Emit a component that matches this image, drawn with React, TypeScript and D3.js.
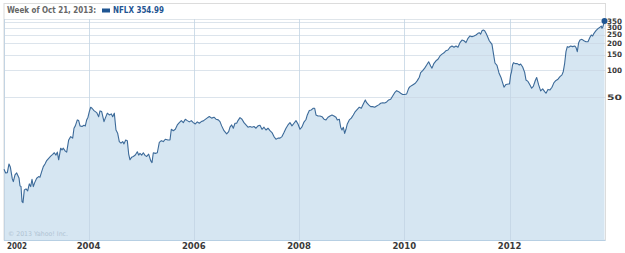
import React from "react";
import * as d3 from "d3";

const W = 625;
const H = 253;

// weekly closes (fractional year, split-adjusted price)
const years: number[] = [
  2002.394, 2002.426, 2002.457, 2002.489, 2002.514, 2002.552, 2002.571, 2002.603, 2002.635, 2002.679,
  2002.698, 2002.717, 2002.736, 2002.755, 2002.78, 2002.812, 2002.844, 2002.875, 2002.901, 2002.926,
  2002.951, 2002.977, 2003.015, 2003.053, 2003.078, 2003.11, 2003.141, 2003.173, 2003.205, 2003.243,
  2003.281, 2003.319, 2003.35, 2003.382, 2003.407, 2003.433, 2003.471, 2003.496, 2003.521, 2003.559,
  2003.585, 2003.623, 2003.661, 2003.699, 2003.724, 2003.749, 2003.787, 2003.813, 2003.838, 2003.876,
  2003.914, 2003.939, 2003.965, 2003.99, 2004.015, 2004.041, 2004.066, 2004.104, 2004.155, 2004.193,
  2004.218, 2004.25, 2004.294, 2004.319, 2004.357, 2004.395, 2004.433, 2004.459, 2004.49, 2004.522,
  2004.554, 2004.585, 2004.617, 2004.649, 2004.674, 2004.706, 2004.737, 2004.763, 2004.788, 2004.82,
  2004.851, 2004.889, 2004.927, 2004.953, 2004.978, 2005.01, 2005.041, 2005.073, 2005.105, 2005.143,
  2005.181, 2005.206, 2005.231, 2005.269, 2005.307, 2005.345, 2005.383, 2005.421, 2005.459, 2005.51,
  2005.548, 2005.573, 2005.611, 2005.649, 2005.687, 2005.725, 2005.763, 2005.801, 2005.839, 2005.877,
  2005.915, 2005.953, 2005.991, 2006.029, 2006.067, 2006.105, 2006.143, 2006.181, 2006.219, 2006.257,
  2006.295, 2006.34, 2006.384, 2006.422, 2006.466, 2006.498, 2006.53, 2006.574, 2006.625, 2006.663,
  2006.688, 2006.72, 2006.751, 2006.783, 2006.815, 2006.84, 2006.878, 2006.916, 2006.954, 2006.992,
  2007.03, 2007.068, 2007.106, 2007.144, 2007.182, 2007.22, 2007.258, 2007.296, 2007.334, 2007.372,
  2007.41, 2007.448, 2007.486, 2007.524, 2007.562, 2007.6, 2007.638, 2007.676, 2007.714, 2007.752,
  2007.79, 2007.828, 2007.866, 2007.904, 2007.942, 2007.98, 2008.018, 2008.056, 2008.094, 2008.132,
  2008.157, 2008.195, 2008.233, 2008.271, 2008.297, 2008.322, 2008.36, 2008.398, 2008.436, 2008.474,
  2008.512, 2008.55, 2008.588, 2008.626, 2008.664, 2008.702, 2008.727, 2008.765, 2008.791, 2008.816,
  2008.841, 2008.867, 2008.892, 2008.917, 2008.955, 2008.993, 2009.031, 2009.069, 2009.107, 2009.145,
  2009.183, 2009.221, 2009.259, 2009.285, 2009.323, 2009.361, 2009.399, 2009.437, 2009.475, 2009.513,
  2009.551, 2009.589, 2009.627, 2009.665, 2009.703, 2009.741, 2009.779, 2009.817, 2009.855, 2009.893,
  2009.931, 2009.969, 2010.007, 2010.045, 2010.083, 2010.108, 2010.159, 2010.209, 2010.247, 2010.285,
  2010.311, 2010.349, 2010.387, 2010.425, 2010.463, 2010.501, 2010.526, 2010.564, 2010.602, 2010.64,
  2010.678, 2010.716, 2010.754, 2010.792, 2010.83, 2010.868, 2010.906, 2010.944, 2010.982, 2011.02,
  2011.058, 2011.096, 2011.134, 2011.172, 2011.21, 2011.248, 2011.286, 2011.324, 2011.362, 2011.4,
  2011.425, 2011.451, 2011.476, 2011.501, 2011.527, 2011.558, 2011.577, 2011.615, 2011.641, 2011.666,
  2011.691, 2011.723, 2011.761, 2011.799, 2011.837, 2011.869, 2011.894, 2011.932, 2011.976, 2011.999,
  2012.021, 2012.037, 2012.056, 2012.075, 2012.109, 2012.147, 2012.185, 2012.211, 2012.249, 2012.287,
  2012.312, 2012.35, 2012.388, 2012.42, 2012.451, 2012.489, 2012.515, 2012.553, 2012.591, 2012.629,
  2012.667, 2012.692, 2012.73, 2012.768, 2012.806, 2012.844, 2012.882, 2012.92, 2012.958, 2012.996,
  2013.021, 2013.047, 2013.072, 2013.097, 2013.123, 2013.161, 2013.199, 2013.237, 2013.262, 2013.287,
  2013.313, 2013.338, 2013.376, 2013.414, 2013.452, 2013.49, 2013.528, 2013.553, 2013.579, 2013.604,
  2013.642, 2013.68, 2013.718, 2013.743, 2013.756, 2013.769, 2013.794, 2013.804,
];

const prices: number[] = [
  7.93, 7.21, 7.27, 9.08, 8.41, 6.18, 5.77, 6.85, 7.21, 6.34,
  5.17, 5.08, 3.46, 3.37, 4.67, 4.79, 4.55, 5.44, 5.08, 6.13,
  5.08, 5.62, 6.29, 6.56, 6.46, 7.46, 8.48, 9.08, 9.89, 10.5,
  11.1, 11.6, 12.1, 11.4, 12.3, 10.1, 13.6, 13.0, 13.6, 12.6,
  12.3, 16.8, 18.3, 17.6, 22.7, 24.1, 28.1, 27.6, 24.1, 23.7,
  24.5, 24.1, 28.1, 30.1, 34.8, 38.9, 37.9, 35.7, 33.9, 30.5,
  35.4, 34.8, 26.9, 29.4, 33.4, 31.9, 32.8, 30.5, 33.4, 21.7,
  19.9, 16.1, 15.5, 16.1, 15.2, 16.8, 16.5, 11.7, 10.1, 10.8,
  11.0, 11.4, 12.4, 11.4, 11.9, 11.4, 12.1, 11.3, 11.0, 11.7,
  9.89, 9.39, 12.1, 11.9, 12.1, 15.8, 16.5, 16.1, 17.1, 16.8,
  16.8, 22.1, 21.3, 22.1, 24.7, 26.2, 27.6, 26.2, 28.6, 27.6,
  26.7, 27.6, 26.2, 25.3, 26.7, 25.8, 26.9, 27.4, 28.5, 29.6,
  30.7, 29.4, 30.1, 28.6, 28.1, 26.9, 24.1, 21.3, 19.6, 20.8,
  23.3, 24.7, 22.7, 25.8, 25.8, 27.6, 29.8, 28.6, 26.2, 24.7,
  23.3, 23.7, 23.3, 23.7, 22.7, 24.1, 24.5, 22.1, 23.3, 21.7,
  22.7, 21.3, 20.3, 18.3, 17.1, 17.6, 17.6, 18.3, 20.3, 22.7,
  24.7, 26.2, 24.1, 25.8, 27.6, 25.3, 22.1, 23.5, 26.6, 28.4,
  31.9, 35.7, 36.3, 37.9, 37.9, 31.9, 31.1, 31.1, 30.5, 28.6,
  28.1, 30.1, 31.1, 31.9, 31.1, 30.1, 28.1, 28.6, 23.3, 21.7,
  23.3, 19.9, 22.1, 25.3, 28.1, 29.4, 31.9, 34.8, 36.9, 38.9,
  37.9, 42.3, 46.9, 43.7, 41.3, 39.5, 39.5, 38.9, 40.2, 41.3,
  43.1, 43.7, 43.4, 44.5, 46.9, 47.7, 52.0, 56.5, 59.5, 58.0,
  55.7, 54.0, 54.0, 54.7, 63.0, 66.0, 68.9, 72.0, 77.0, 83.9,
  94.3, 99.4, 106, 115, 125, 112, 106, 120, 128, 133,
  145, 152, 157, 166, 169, 181, 187, 181, 187, 181,
  204, 218, 214, 204, 228, 242, 237, 242, 248, 259,
  263, 254, 277, 282, 277, 256, 242, 214, 204, 195,
  158, 121, 114, 93.8, 83.5, 72.5, 65.0, 69.8, 70.7, 70.7,
  89.1, 96.2, 115, 122, 119, 119, 115, 118, 109, 95,
  78.3, 75.4, 68.9, 63.3, 66.3, 77.3, 83.5, 68.9, 59.1, 62.2,
  58.0, 55.7, 61.4, 60.6, 65.0, 73.1, 77.3, 79.8, 85.2, 89.1,
  97.4, 120, 162, 184, 181, 187, 184, 187, 181, 162,
  204, 218, 222, 214, 209, 209, 234, 248, 242, 259,
  277, 292, 303, 312, 295, 303, 335, 354.99,
];

const yTicks: number[] = [50, 100, 150, 200, 250, 300, 350];
const xTicks: number[] = [2004, 2006, 2008, 2010, 2012];
const firstYearLabel = "2002";
const headerDate = "Week of Oct 21, 2013:";
const symbol = "NFLX";
const lastClose = "354.99";

const FONT = "'DejaVu Sans', Verdana, sans-serif";

export default function App() {
  const left = 4;
  const right = 604.5;
  const top = 19;
  const bottom = 240;

  const data = years.map((t, i) => ({ t, v: prices[i] }));

  const x = d3.scaleLinear().domain([years[0], years[years.length - 1]]).range([left, right]);
  const y = d3.scaleLog().domain([1.29, 374]).range([bottom, top]);

  const area = d3
    .area<{ t: number; v: number }>()
    .x((d) => x(d.t))
    .y0(bottom)
    .y1((d) => y(d.v));
  const line = d3
    .line<{ t: number; v: number }>()
    .x((d) => x(d.t))
    .y((d) => y(d.v));

  const last = data[data.length - 1];

  return (
    <svg
      width={W}
      height={H}
      style={{ position: "absolute", left: 0, top: 0, background: "#fff" }}
      fontFamily={FONT}
    >
      {/* outer frame */}
      <rect x={left} y={3.5} width={right + 1 - left} height={bottom - 3.5} fill="#fff" stroke="#dcdcdc" />
      {/* header */}
      <text
        x={7}
        y={13}
        fontSize={8.5}
        fontWeight="bold"
        fill="#666"
        textLength={89}
        lengthAdjust="spacingAndGlyphs"
      >
        {headerDate}
      </text>
      <rect x={102} y={8.5} width={8} height={4} fill="#1f5592" />
      <text
        x={113}
        y={13}
        fontSize={8.5}
        fontWeight="bold"
        fill="#1f5592"
        textLength={51}
        lengthAdjust="spacingAndGlyphs"
      >
        {symbol} {lastClose}
      </text>
      <line x1={left} x2={right + 1} y1={top + 0.5} y2={top + 0.5} stroke="#dfe5ea" />

      {/* area */}
      <path d={area(data) || ""} fill="#d6e6f2" />

      {/* horizontal grid */}
      {yTicks.map((v) => (
        <line
          key={v}
          x1={left}
          x2={right + 1}
          y1={Math.round(y(v)) + 0.5}
          y2={Math.round(y(v)) + 0.5}
          stroke="#c9d6e2"
          strokeOpacity={0.65}
        />
      ))}
      {/* vertical grid */}
      {xTicks.map((t) => (
        <line
          key={t}
          x1={Math.round(x(t)) + 0.5}
          x2={Math.round(x(t)) + 0.5}
          y1={top}
          y2={bottom}
          stroke="#c3d4e3"
          strokeOpacity={0.8}
        />
      ))}
      <line x1={left + 0.5} x2={left + 0.5} y1={top} y2={bottom} stroke="#c3d4e3" />
      <line x1={left} x2={right + 1} y1={bottom + 0.5} y2={bottom + 0.5} stroke="#b7cfe3" />

      {/* price line */}
      <path d={line(data) || ""} fill="none" stroke="#3c6a99" strokeWidth={1.1} strokeLinejoin="round" />
      <circle cx={x(last.t)} cy={y(last.v)} r={3} fill="#1f5592" />

      {/* copyright */}
      <text x={8} y={236} fontSize={6.5} fill="#b0c3d3" textLength={60} lengthAdjust="spacingAndGlyphs">
        © 2013 Yahoo! Inc.
      </text>

      {/* y labels */}
      {yTicks.map((v) => (
        <text
          key={v}
          x={607}
          y={y(v)}
          dy="0.35em"
          fontSize={7.5}
          fontWeight="bold"
          fill="#3a3a3a"
          textLength={15}
          lengthAdjust="spacingAndGlyphs"
        >
          {v}
        </text>
      ))}

      {/* x labels */}
      <text x={7} y={249} fontSize={8.5} fontWeight="bold" fill="#3a3a3a" textLength={20} lengthAdjust="spacingAndGlyphs">
        {firstYearLabel}
      </text>
      {xTicks.map((t) => (
        <text
          key={t}
          x={x(t)}
          y={249}
          textAnchor="middle"
          fontSize={8.5}
          fontWeight="bold"
          fill="#3a3a3a"
        >
          {t}
        </text>
      ))}
    </svg>
  );
}
